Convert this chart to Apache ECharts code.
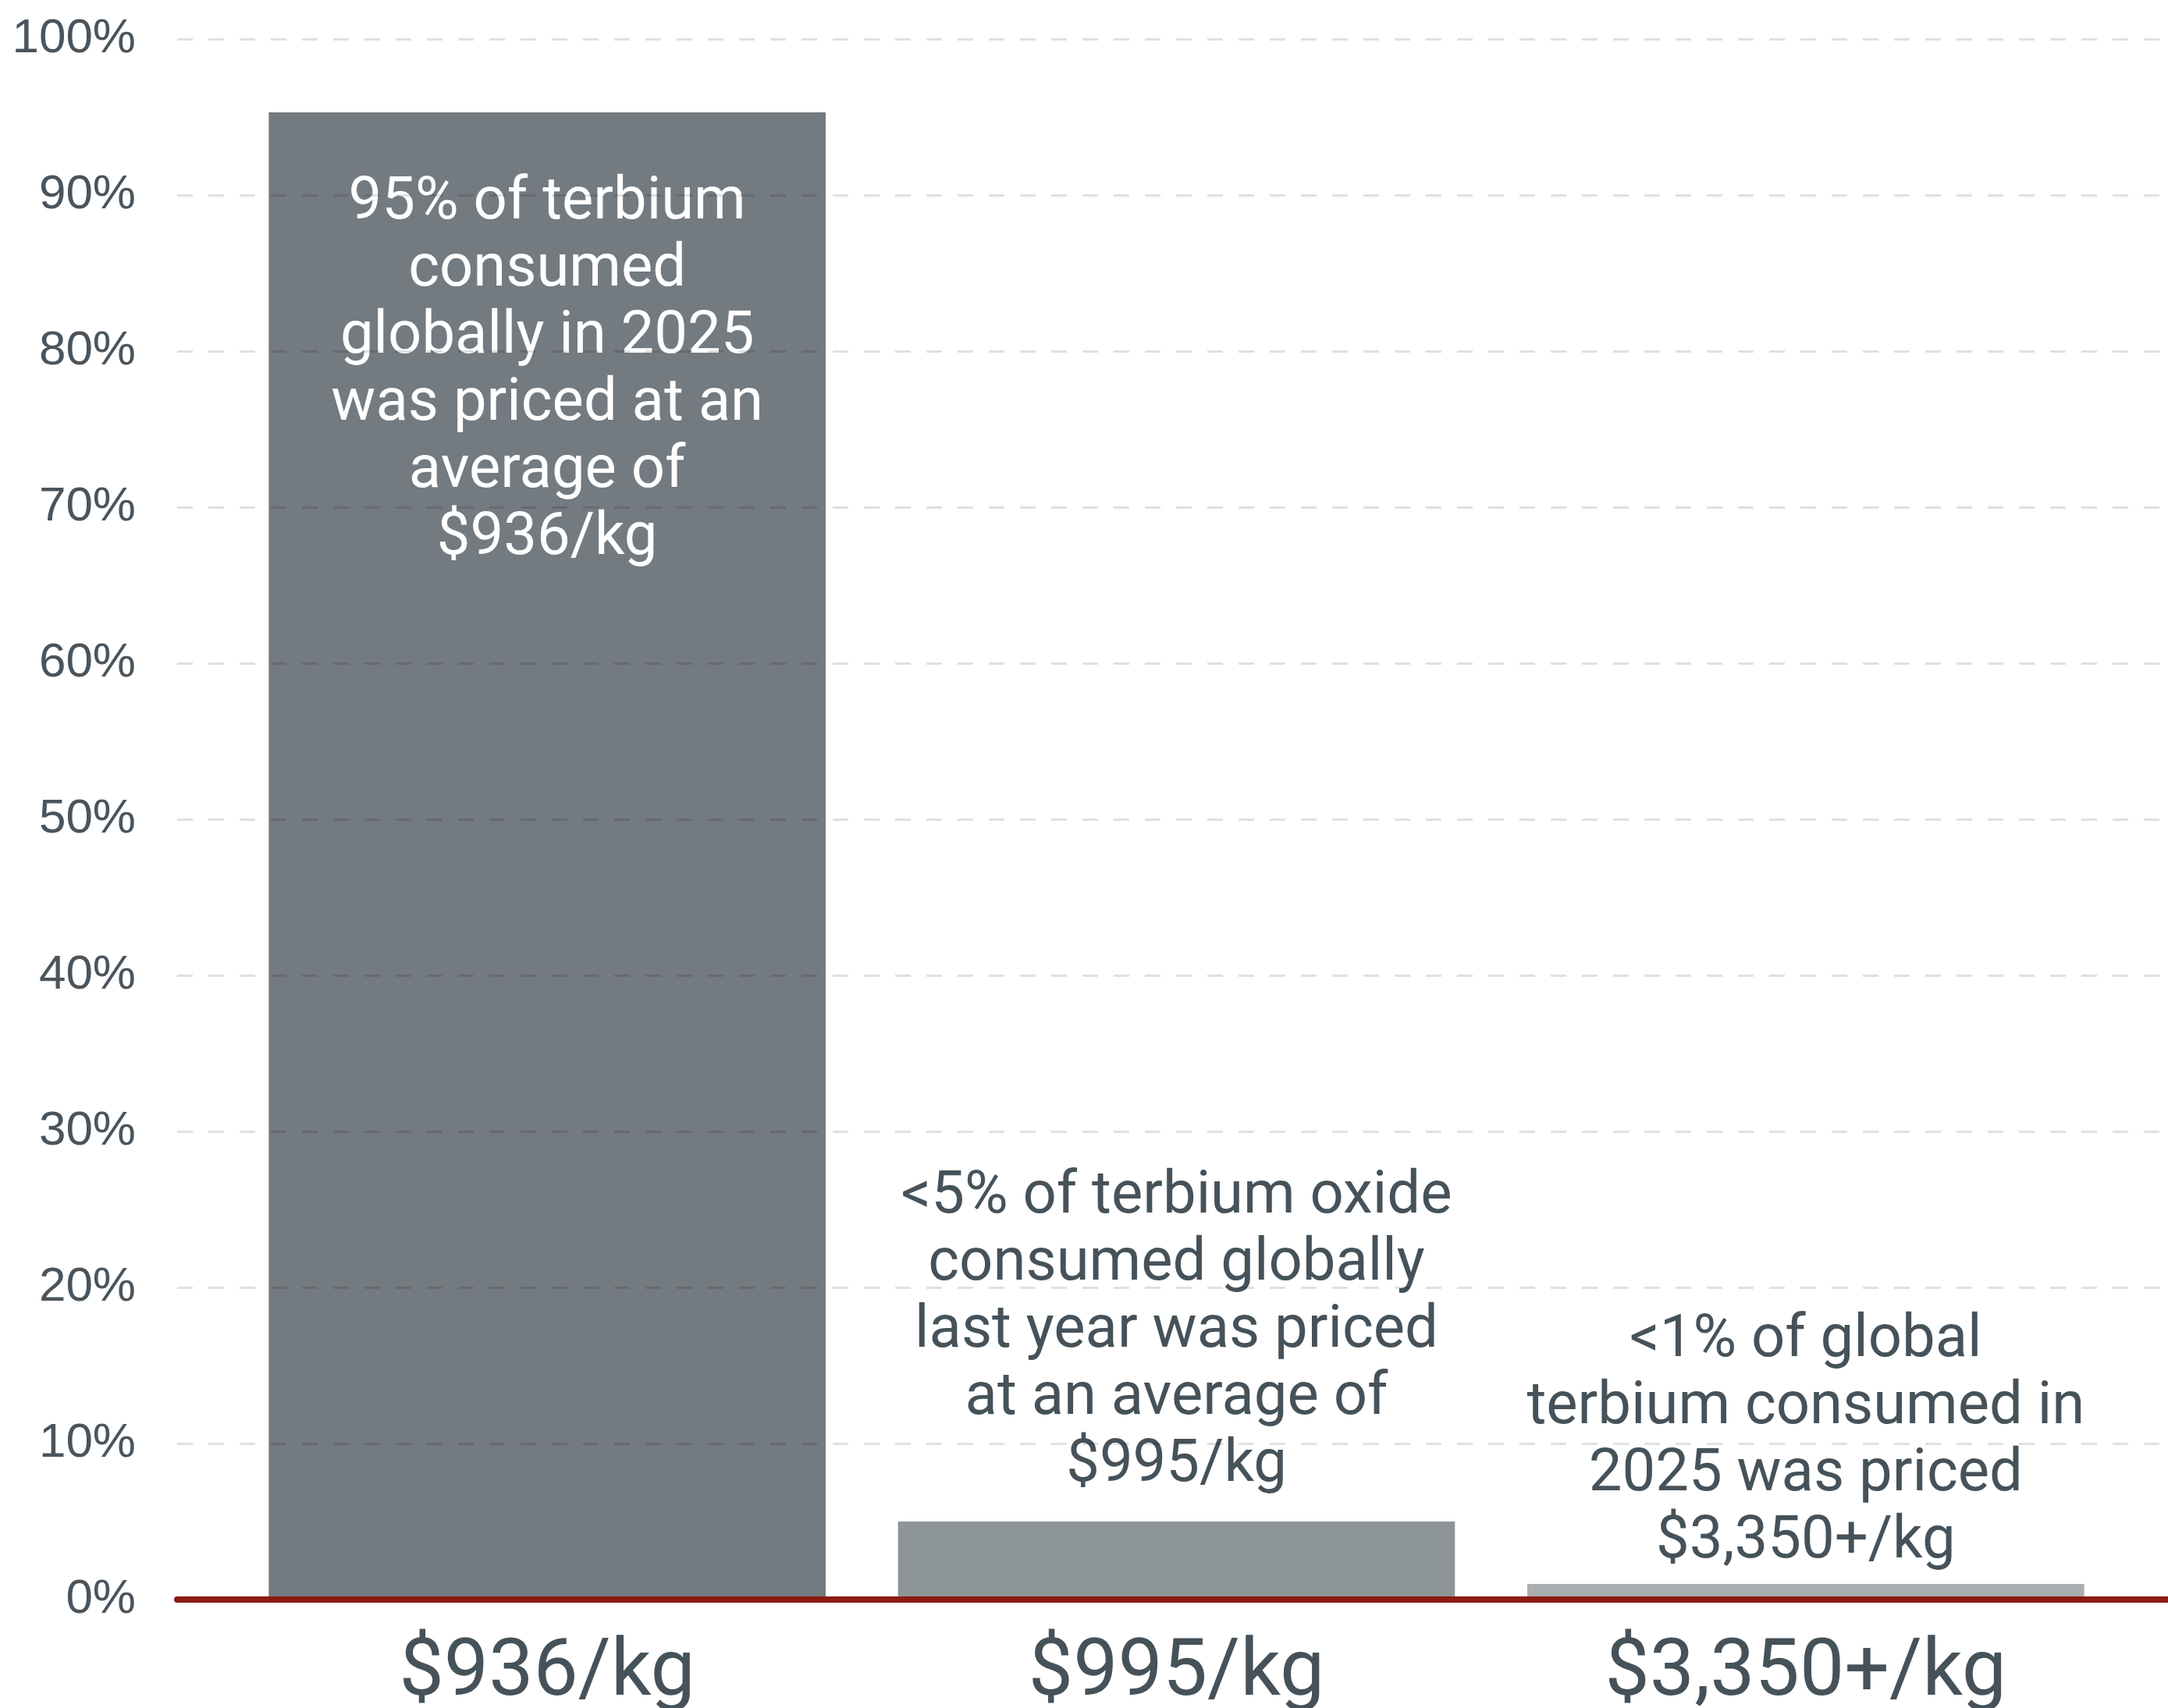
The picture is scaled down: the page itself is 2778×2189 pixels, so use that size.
<!DOCTYPE html>
<html>
<head>
<meta charset="utf-8">
<script src="https://cdn.jsdelivr.net/npm/echarts@6/dist/echarts.min.js"></script>
<style>
  html, body { margin: 0; padding: 0; background: #fff; }
  #chart { width: 2778px; height: 2189px; }
</style>
</head>
<body>
<div id="chart"></div>
<script>
// data
const categories = ['$936/kg', '$995/kg', '$3,350+/kg'];
const shares = [95.3, 5, 1];
const notes = [
  '95% of terbium\nconsumed\nglobally in 2025\nwas priced at an\naverage of\n$936/kg',
  '<5% of terbium oxide\nconsumed globally\nlast year was priced\nat an average of\n$995/kg',
  '<1% of global\nterbium consumed in\n2025 was priced\n$3,350+/kg'
];

// styles
const barColors = ['#737a80', '#8e9598', '#aaaeb1'];
const noteColors = ['#ffffff', '#46525a', '#46525a'];
const notePos = ['insideTop', 'top', 'top'];
const noteDist = [74, 28, 10];
const textColor = '#46525a';

const chart = echarts.init(document.getElementById('chart'));

chart.setOption({
  animation: false,
  grid: [
    // outer grid: gridlines + red baseline
    { left: 227, right: 0, top: 50, bottom: 139, outerBoundsMode: 'none', containLabel: false },
    // inner grid: bars
    { left: 298, right: 61, top: 50, bottom: 139, outerBoundsMode: 'none', containLabel: false }
  ],
  xAxis: [
    {
      gridIndex: 0,
      type: 'category',
      data: categories,
      axisLine: { show: true, lineStyle: { color: '#8b1a10', width: 8 } },
      axisTick: { show: false },
      axisLabel: { show: false },
      z: 4
    },
    {
      gridIndex: 1,
      type: 'category',
      data: categories,
      axisLine: { show: false },
      axisTick: { show: false },
      axisLabel: {
        fontFamily: 'Roboto',
        fontSize: 102,
        color: textColor,
        margin: 45
      }
    }
  ],
  yAxis: [
    {
      gridIndex: 0,
      type: 'value',
      min: 0,
      max: 100,
      interval: 10,
      z: 3,
      axisLine: { show: false },
      axisTick: { show: false },
      axisLabel: {
        formatter: '{value}%',
        fontFamily: 'Liberation Sans',
        fontSize: 62,
        color: '#4a545c',
        margin: 53
      },
      splitLine: {
        lineStyle: { color: 'rgba(0,0,0,0.12)', width: 3, type: [20, 20] }
      }
    },
    {
      gridIndex: 1,
      type: 'value',
      min: 0,
      max: 100,
      interval: 10,
      show: false,
      splitLine: { show: false }
    }
  ],
  series: [
    {
      type: 'bar',
      xAxisIndex: 1,
      yAxisIndex: 1,
      barCategoryGap: '11.5%',
      data: shares.map((v, i) => ({
        value: v,
        itemStyle: { color: barColors[i] },
        label: {
          show: true,
          position: notePos[i],
          distance: noteDist[i],
          formatter: notes[i],
          color: noteColors[i],
          fontFamily: 'Roboto',
          fontSize: 76,
          lineHeight: 86,
          align: 'center'
        }
      }))
    }
  ]
});
</script>
</body>
</html>
